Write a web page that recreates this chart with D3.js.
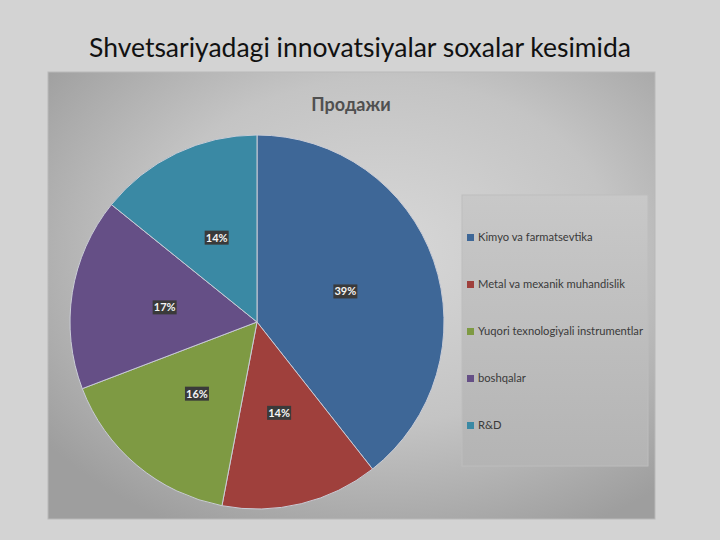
<!DOCTYPE html>
<html>
<head>
<meta charset="utf-8">
<script src="https://cdn.jsdelivr.net/npm/d3@7/dist/d3.min.js"></script>
<style>
html,body{margin:0;padding:0;background:#d3d3d3;}
svg{display:block;}
</style>
</head>
<body>
<svg id="chart" width="720" height="540"></svg>
<script>
const categories = ["Kimyo va farmatsevtika","Metal va mexanik muhandislik","Yuqori texnologiyali instrumentlar","boshqalar","R&D"];
const values = [39.4, 13.6, 16.2, 16.6, 14.2];
const labels = ["39%","14%","16%","17%","14%"];
const colors = ["#3e6797","#9f403c","#7e9a43","#654f86","#3a89a4"];

const svg = d3.select("#chart");
const defs = svg.append("defs");
const rg = defs.append("radialGradient").attr("id","bg").attr("cx","55%").attr("cy","40%").attr("r","70%");
rg.append("stop").attr("offset","0%").attr("stop-color","#d8d8d8");
rg.append("stop").attr("offset","55%").attr("stop-color","#c4c4c4");
rg.append("stop").attr("offset","100%").attr("stop-color","#9e9e9e");
const lg = defs.append("linearGradient").attr("id","leg").attr("x1","0").attr("y1","0").attr("x2","0").attr("y2","1");
lg.append("stop").attr("offset","0%").attr("stop-color","#c8c8c8");
lg.append("stop").attr("offset","100%").attr("stop-color","#b4b4b4");

svg.append("rect").attr("width",720).attr("height",540).attr("fill","#d3d3d3");

svg.append("text").attr("x",360).attr("y",57).attr("text-anchor","middle")
  .attr("font-family","Lato, 'Open Sans', sans-serif").attr("font-size",26.5).attr("fill","#111")
  .text("Shvetsariyadagi innovatsiyalar soxalar kesimida");

// chart panel
svg.append("rect").attr("x",48).attr("y",72).attr("width",607).attr("height",447)
  .attr("fill","url(#bg)").attr("stroke","#b9b9b9").attr("stroke-width",1);

svg.append("text").attr("x",351).attr("y",111).attr("text-anchor","middle")
  .attr("font-family","Lato, 'Open Sans', sans-serif").attr("font-weight","bold")
  .attr("font-size",18).attr("fill","#505050").text("Продажи");

const cx = 257, cy = 322, r = 187;
const pie = d3.pie().sort(null).value(d=>d);
const arcs = pie(values);
const arc = d3.arc().innerRadius(0).outerRadius(r);
const g = svg.append("g").attr("transform",`translate(${cx},${cy})`);
g.selectAll("path").data(arcs).join("path")
  .attr("d",arc).attr("fill",(d,i)=>colors[i])
  .attr("stroke","#c9ccd6").attr("stroke-width",1);

const lab = g.selectAll("g.lab").data(arcs).join("g").attr("class","lab")
  .attr("transform",d=>{const c=arc.centroid(d);return `translate(${c[0]},${c[1]})`;});
lab.append("rect").attr("x",-12).attr("y",-7).attr("width",24).attr("height",14).attr("fill","#3a3a3a");
lab.append("text").attr("text-anchor","middle").attr("dy","0.36em")
  .attr("font-family","Lato, 'Open Sans', sans-serif").attr("font-weight","bold")
  .attr("font-size",11).attr("fill","#f4f4f4").text((d,i)=>labels[i]);

// legend
svg.append("rect").attr("x",462).attr("y",195).attr("width",186).attr("height",271)
  .attr("fill","url(#leg)").attr("stroke","#bdbdbd").attr("stroke-width",1);
const leg = svg.append("g").selectAll("g").data(categories).join("g")
  .attr("transform",(d,i)=>`translate(467,${237 + i*47})`);
leg.append("rect").attr("x",0).attr("y",-3).attr("width",7).attr("height",7).attr("fill",(d,i)=>colors[i]);
leg.append("text").attr("x",11).attr("dy","0.35em")
  .attr("font-family","Lato, 'Open Sans', sans-serif").attr("font-size",11.2).attr("fill","#3a3a3a")
  .text(d=>d);
</script>
</body>
</html>
